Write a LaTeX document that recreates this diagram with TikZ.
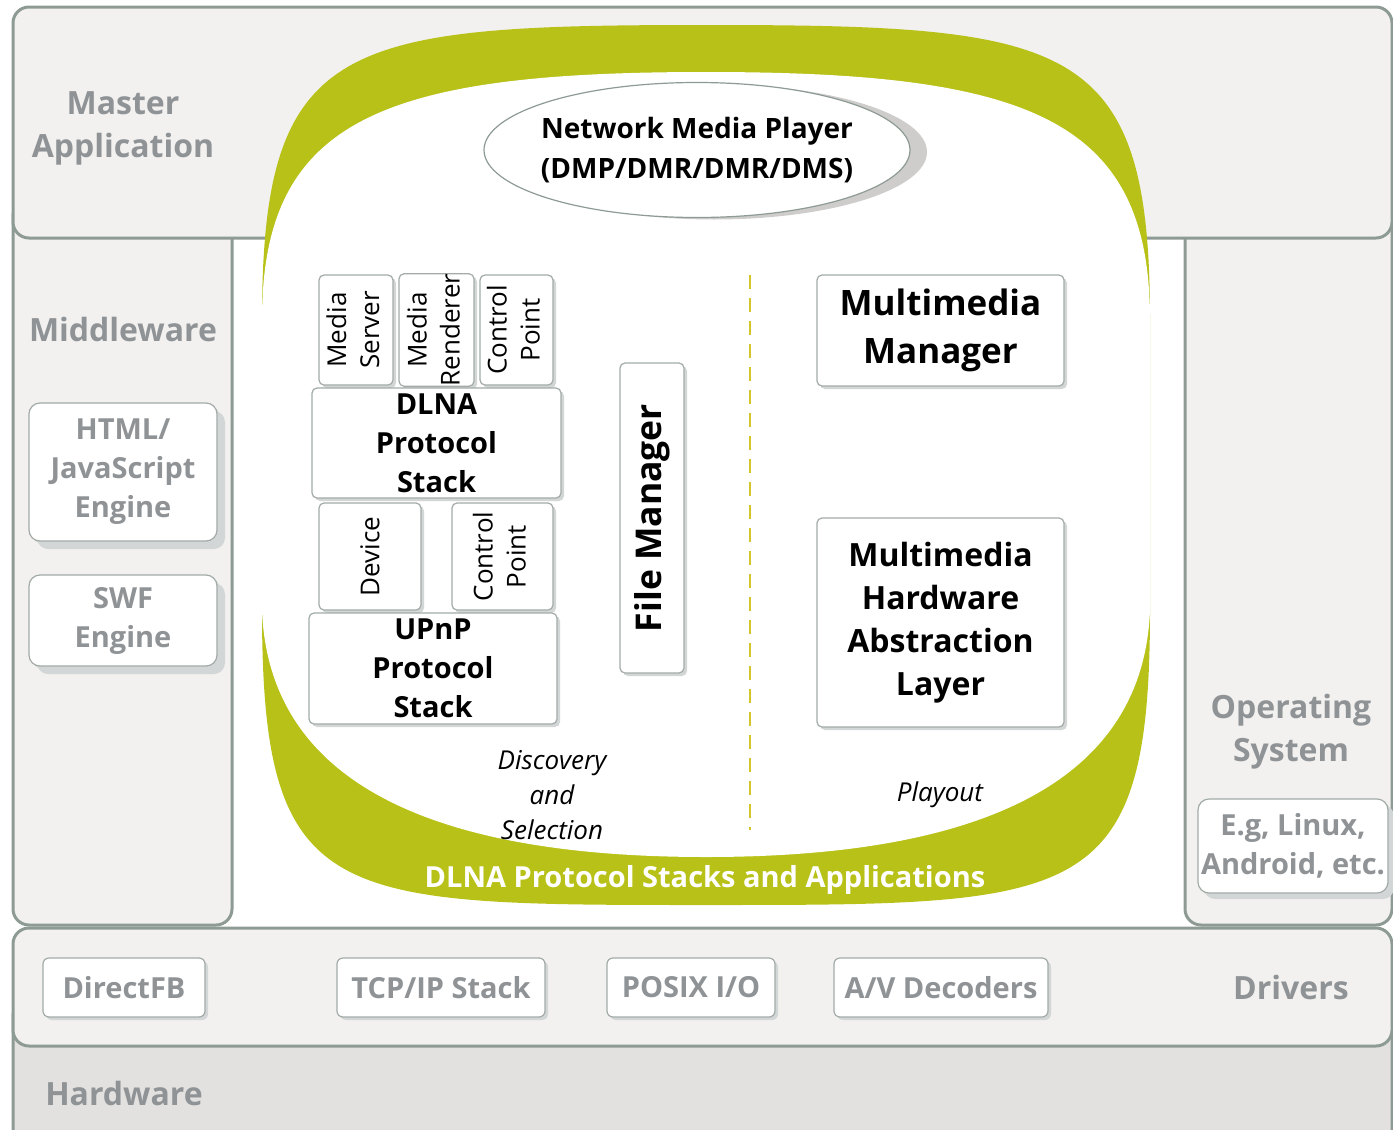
\documentclass[tikz,border=0pt]{standalone}
\usepackage{fontspec}
\setmainfont{Open Sans}
\usetikzlibrary{shapes.geometric,shadows}

\definecolor{framegray}{HTML}{8E9B95}
\definecolor{panelfill}{HTML}{F2F1EF}
\definecolor{hwfill}{HTML}{E2E1DF}
\definecolor{labelgray}{HTML}{8F9396}
\definecolor{dlnagreen}{HTML}{B8C117}
\definecolor{boxline}{HTML}{A2ABA7}
\definecolor{shadowgray}{HTML}{D3D6D6}
\definecolor{dashgreen}{HTML}{D3C52A}

\tikzset{
  panel/.style={draw=framegray, line width=3pt, fill=panelfill, rounded corners=16pt},
  box/.style={draw=boxline, line width=1.2pt, fill=white, rounded corners=5pt,
    inner sep=0pt, align=center,
    drop shadow={shadow xshift=3pt, shadow yshift=-3pt, fill=shadowgray, opacity=1}},
  graybox/.style={box, rounded corners=11pt, text=labelgray},
  layertext/.style={text=labelgray, align=center, font=\bfseries\fontsize{32}{43}\selectfont},
  sidenote/.style={align=center, font=\itshape\fontsize{26}{35}\selectfont}
}

\begin{document}
\begin{tikzpicture}[x=1pt,y=-1pt]
    \useasboundingbox (0,0) rectangle (1393,1130);

    \draw[panel, fill=hwfill] (13,1000) rectangle (1392,1160);
    \draw[panel] (13,200) rectangle (232,925);
    \draw[panel] (1185,200) rectangle (1392,925);
    \draw[panel] (13,928) rectangle (1392,1046);
    \draw[panel] (13,7) rectangle (1392,238);

    \fill[dlnagreen] (262,320) .. controls (262,40) and (340,25) .. (706,25)
        .. controls (1072,25) and (1150,40) .. (1150,320) -- (1150,610)
        .. controls (1150,905) and (1082,905) .. (706,905)
        .. controls (330,905) and (262,905) .. (262,610) -- cycle;
    \fill[white] (262,320) .. controls (262,120) and (380,72) .. (706,72)
        .. controls (1032,72) and (1150,120) .. (1150,320) -- (1150,610)
        .. controls (1145,740) and (1050,857) .. (706,857)
        .. controls (362,857) and (267,740) .. (262,610) -- cycle;

    \node[layertext] (master) at (123,128) {Master\\Application};
    \node[layertext] (middleware) at (123,329) {Middleware};
    \node[layertext] (os) at (1291,732) {Operating\\System};
    \node[layertext] (drivers) at (1291,987) {Drivers};
    \node[layertext] (hardware) at (124,1093) {Hardware};

    \node[graybox, minimum width=188pt, minimum height=138pt, font=\bfseries\fontsize{29}{39}\selectfont,
        drop shadow={shadow xshift=8pt, shadow yshift=-8pt, fill=shadowgray, opacity=1}] (html) at (123,472) {HTML/\\JavaScript\\Engine};
    \node[graybox, minimum width=188pt, minimum height=91pt, font=\bfseries\fontsize{29}{39}\selectfont,
        drop shadow={shadow xshift=8pt, shadow yshift=-8pt, fill=shadowgray, opacity=1}] (swf) at (123,620.5) {SWF\\Engine};
    \node[graybox, minimum width=190pt, minimum height=94pt, font=\bfseries\fontsize{29}{39}\selectfont,
        drop shadow={shadow xshift=6pt, shadow yshift=-6pt, fill=shadowgray, opacity=1}] (osbox) at (1293,846) {E.g, Linux,\\Android, etc.};

    \node[graybox, rounded corners=6pt, minimum width=162pt, minimum height=59pt, font=\bfseries\fontsize{29}{39}\selectfont] (directfb) at (124,987.5) {DirectFB};
    \node[graybox, rounded corners=6pt, minimum width=208pt, minimum height=59pt, font=\bfseries\fontsize{29}{39}\selectfont] (tcpip) at (441,987.5) {TCP/IP Stack};
    \node[graybox, rounded corners=6pt, minimum width=168pt, minimum height=59pt, font=\bfseries\fontsize{29}{39}\selectfont] (posix) at (691,987.5) {POSIX I/O};
    \node[graybox, rounded corners=6pt, minimum width=214pt, minimum height=59pt, font=\bfseries\fontsize{29}{39}\selectfont] (avdec) at (941,987.5) {A/V Decoders};

    \node[ellipse, draw=framegray, line width=1.2pt, fill=white, minimum width=426pt, minimum height=135pt,
        inner xsep=-12pt, inner ysep=0pt, align=center, font=\bfseries\fontsize{28}{40}\selectfont,
        drop shadow={shadow xshift=17pt, shadow yshift=-2pt, fill=hwfill!80!gray, opacity=1}] (nmp) at (697,150)
        {Network Media Player\\(DMP/DMR/DMR/DMS)};

    \node[box, minimum width=74pt, minimum height=110pt, font=\fontsize{26}{33}\selectfont] (mserver) at (356,330)
        {\rotatebox{90}{\begin{tabular}{@{}c@{}}Media\\Server\end{tabular}}};
    \node[box, minimum width=75pt, minimum height=110pt, font=\fontsize{26}{33}\selectfont] (mrender) at (436.5,330)
        {\rotatebox{90}{\begin{tabular}{@{}c@{}}Media\\Renderer\end{tabular}}};
    \node[box, minimum width=73pt, minimum height=110pt, font=\fontsize{26}{33}\selectfont] (ctrlpt) at (516.5,330)
        {\rotatebox{90}{\begin{tabular}{@{}c@{}}Control\\Point\end{tabular}}};
    \node[box, minimum width=249pt, minimum height=110pt, font=\bfseries\fontsize{29}{39}\selectfont] (dlna) at (436.5,443)
        {DLNA\\Protocol\\Stack};
    \node[box, minimum width=102pt, minimum height=107pt, font=\fontsize{26}{33}\selectfont] (device) at (370,556.5)
        {\rotatebox{90}{Device}};
    \node[box, minimum width=101pt, minimum height=107pt, font=\fontsize{26}{33}\selectfont] (ctrlpt2) at (502.5,556.5)
        {\rotatebox{90}{\begin{tabular}{@{}c@{}}Control\\Point\end{tabular}}};
    \node[box, minimum width=248pt, minimum height=111pt, font=\bfseries\fontsize{29}{39}\selectfont] (upnp) at (433,668.5)
        {UPnP\\Protocol\\Stack};
    \node[box, minimum width=64pt, minimum height=310pt, font=\bfseries\fontsize{35.5}{40}\selectfont] (filemgr) at (652,518)
        {\rotatebox{90}{File Manager}};

    \node[box, minimum width=247pt, minimum height=111pt, font=\bfseries\fontsize{35}{48}\selectfont] (mmmgr) at (940.5,330.5)
        {Multimedia\\Manager};
    \node[box, minimum width=247pt, minimum height=209pt, font=\bfseries\fontsize{32}{43}\selectfont] (mmhal) at (940.5,622.5)
        {Multimedia\\Hardware\\Abstraction\\Layer};

    \coordinate (septop) at (750,275);
    \coordinate (sepbot) at (750,830);
    \draw[dashgreen, line width=2.5pt, dash pattern=on 14pt off 9pt] (septop) -- (sepbot);

    \node[sidenote] (discovery) at (552,795) {Discovery\\and\\Selection};
    \node[sidenote] (playout) at (940,795) {Playout};
    \node[text=white, font=\bfseries\fontsize{29}{30}\selectfont] (dlnaapps) at (705,880) {DLNA Protocol Stacks and Applications};
\end{tikzpicture}
\end{document}
